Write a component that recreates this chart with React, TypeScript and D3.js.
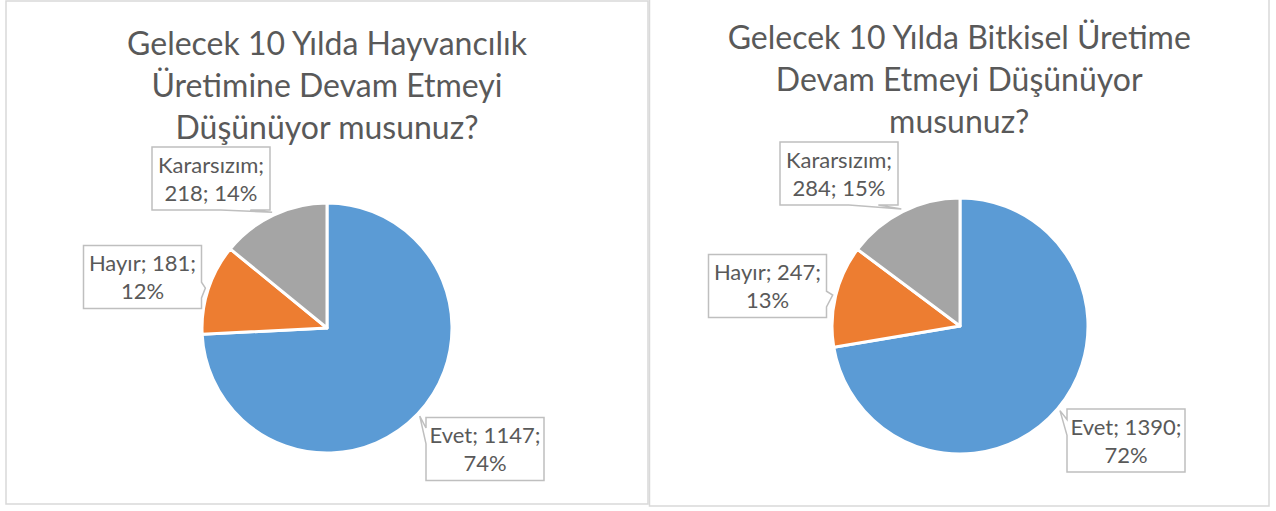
import React from "react";
import * as d3 from "d3";

const categories = ["Evet", "Hayır", "Kararsızım"];
const hayvancilikValues = [1147, 181, 218];
const bitkiselValues = [1390, 247, 284];
const hayvancilikTitle = ["Gelecek 10 Yılda Hayvancılık", "Üretimine Devam Etmeyi", "Düşünüyor musunuz?"];
const bitkiselTitle = ["Gelecek 10 Yılda Bitkisel Üretime", "Devam Etmeyi Düşünüyor", "musunuz?"];
const sliceColors = ["#5B9BD5", "#ED7D31", "#A5A5A5"];

const TEXT = "#595959";
const FONT = "Lato, 'Open Sans', sans-serif";

type Layout = {
  panel: { x: number; y: number; w: number; h: number };
  cx: number;
  cy: number;
  r: number;
  titleY: number;
  labelOffsets: [number, number][];
};

const layouts: Layout[] = [
  {
    panel: { x: 6, y: 1, w: 642, h: 503 },
    cx: 327,
    cy: 328,
    r: 125,
    titleY: 55,
    labelOffsets: [[158, 121], [-184.5, -51], [-116, -149.5]],
  },
  {
    panel: { x: 649.5, y: -5, w: 619.5, h: 511 },
    cx: 960,
    cy: 326,
    r: 128,
    titleY: 49,
    labelOffsets: [[166, 114.5], [-192.5, -40], [-121, -152.5]],
  },
];

function calloutPath(bx: number, by: number, w: number, h: number, tx: number, ty: number) {
  const hc = bx + w / 2;
  const vc = by + h / 2;
  const dx = tx - hc;
  const dy = ty - vc;
  const dq = (dx * h) / w;
  const L = bx, R = bx + w, T = by, B = by + h;
  let p = `M${L},${T}`;
  if (Math.abs(dy) > Math.abs(dq)) {
    const xa = dx > 0 ? bx + (w * 7) / 12 : bx + (w * 2) / 12;
    const xb = dx > 0 ? bx + (w * 10) / 12 : bx + (w * 5) / 12;
    if (dy < 0) {
      p += `L${xa},${T}L${tx},${ty}L${xb},${T}L${R},${T}L${R},${B}L${L},${B}Z`;
    } else {
      p += `L${R},${T}L${R},${B}L${xb},${B}L${tx},${ty}L${xa},${B}L${L},${B}Z`;
    }
  } else {
    const ya = dy > 0 ? by + (h * 7) / 12 : by + (h * 2) / 12;
    const yb = dy > 0 ? by + (h * 10) / 12 : by + (h * 5) / 12;
    if (dx < 0) {
      p += `L${R},${T}L${R},${B}L${L},${B}L${L},${yb}L${tx},${ty}L${L},${ya}Z`;
    } else {
      p += `L${R},${T}L${R},${ya}L${tx},${ty}L${R},${yb}L${R},${B}L${L},${B}Z`;
    }
  }
  return p;
}

function PieChart({ values, title, layout }: { values: number[]; title: string[]; layout: Layout }) {
  const total = d3.sum(values);
  const pie = d3.pie<number>().sort(null).startAngle(0).endAngle(2 * Math.PI);
  const arcs = pie(values);
  const arc = d3.arc<d3.PieArcDatum<number>>().innerRadius(0).outerRadius(layout.r);
  const { cx, cy, r, panel } = layout;
  const titleX = panel.x + panel.w / 2;
  const boxW = 118;
  const boxH = 63;
  return (
    <g>
      <rect x={panel.x} y={panel.y} width={panel.w} height={panel.h} fill="#fff" stroke="#D9D9D9" strokeWidth={1.5} />
      {title.map((t, i) => (
        <text key={i} x={titleX} y={layout.titleY + i * 42} textAnchor="middle" fontFamily={FONT} fontSize={32} fill={TEXT}>
          {t}
        </text>
      ))}
      <g transform={`translate(${cx},${cy})`}>
        {arcs.map((a, i) => (
          <path key={i} d={arc(a) || ""} fill={sliceColors[i]} stroke="#fff" strokeWidth={3} strokeLinejoin="round" />
        ))}
      </g>
      {arcs.map((a, i) => {
        const mid = (a.startAngle + a.endAngle) / 2;
        const tx = cx + Math.sin(mid) * (r + 3);
        const ty = cy - Math.cos(mid) * (r + 3);
        const [ox, oy] = layout.labelOffsets[i];
        const bcx = cx + ox;
        const bcy = cy + oy;
        const bx = bcx - boxW / 2;
        const by = bcy - boxH / 2;
        const pct = Math.round((values[i] / total) * 100);
        const name = categories[i];
        const lines = name.length > 6 ? [`${name};`, `${values[i]}; ${pct}%`] : [`${name}; ${values[i]};`, `${pct}%`];
        return (
          <g key={i}>
            <path d={calloutPath(bx, by, boxW, boxH, tx, ty)} fill="#fff" stroke="#BFBFBF" strokeWidth={1.5} />
            {lines.map((l, j) => (
              <text key={j} x={bcx} y={bcy + (j - 0.5) * 28 + 8} textAnchor="middle" fontFamily={FONT} fontSize={22} fill={TEXT}>
                {l}
              </text>
            ))}
          </g>
        );
      })}
    </g>
  );
}

export default function App() {
  return (
    <svg width={1276} height={511} style={{ position: "absolute", left: 0, top: 0, background: "#fff" }}>
      <rect x={0} y={0} width={1276} height={511} fill="#fff" />
      <PieChart values={hayvancilikValues} title={hayvancilikTitle} layout={layouts[0]} />
      <PieChart values={bitkiselValues} title={bitkiselTitle} layout={layouts[1]} />
    </svg>
  );
}
